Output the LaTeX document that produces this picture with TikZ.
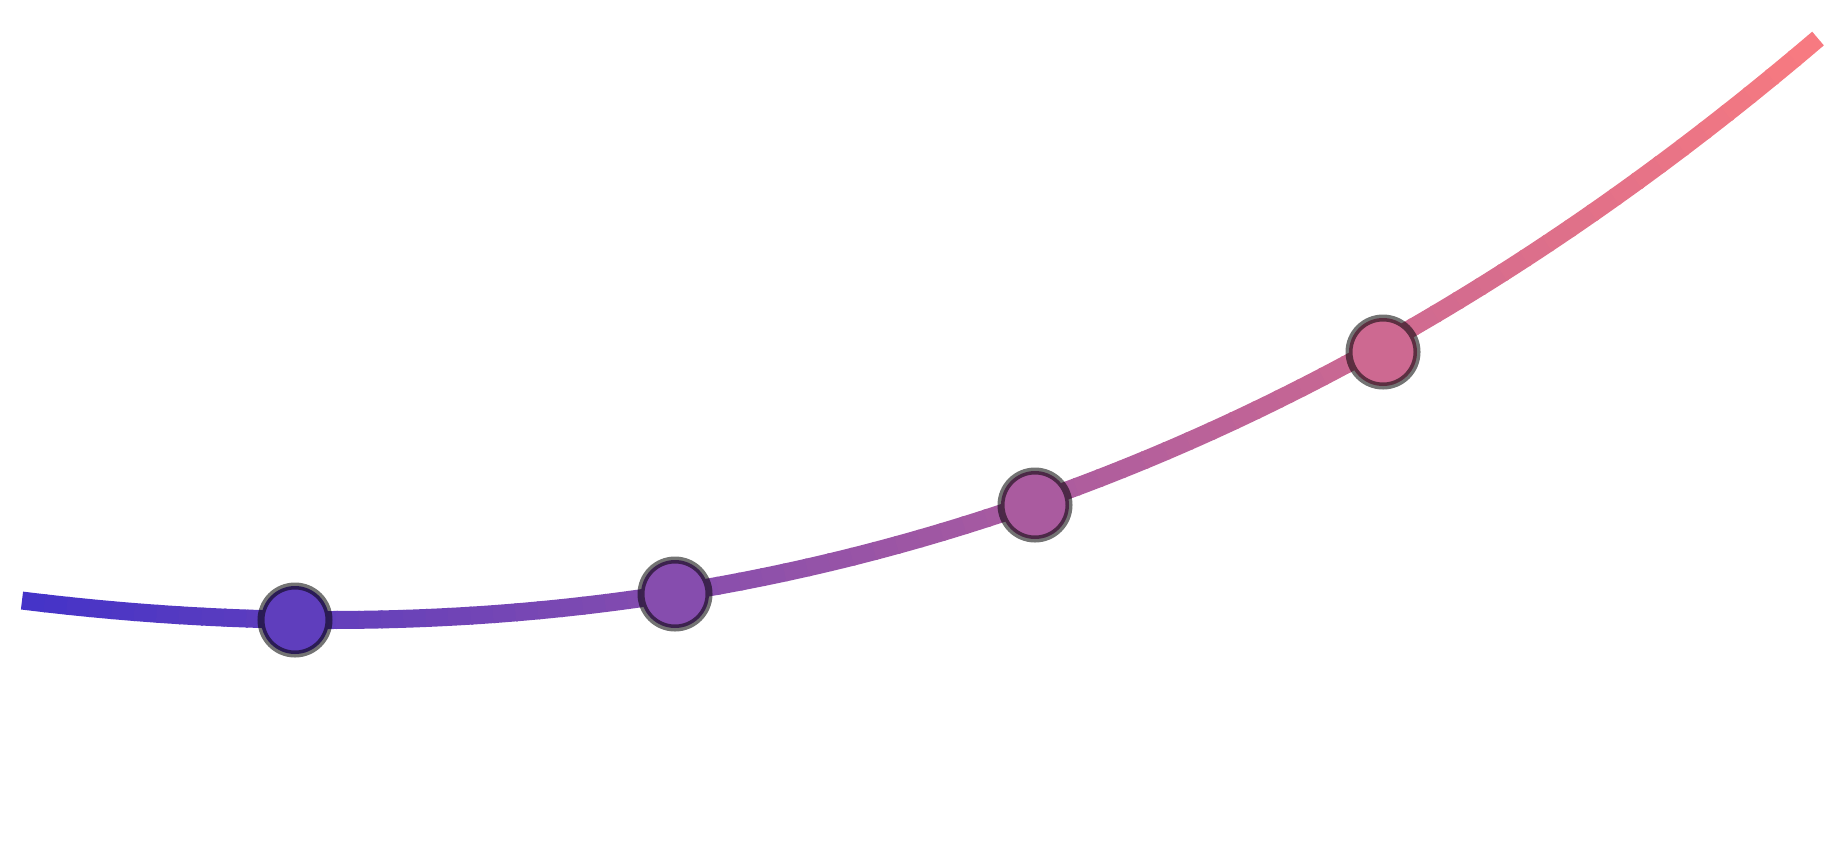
\documentclass[tikz,border=0pt]{standalone}
\definecolor{cA}{RGB}{68,51,200}
\definecolor{cB}{RGB}{248,122,128}
\tikzset{
  marker/.style={circle,minimum size=34pt,inner sep=0pt,line width=3.5pt,draw=black,draw opacity=0.55},
}
\newcommand{\curvey}[2]{\pgfmathsetmacro#1{(620-(215+32*(#2-3.3)/10)*((#2-3.3)/10)*((#2-3.3)/10))/100}}
\begin{document}
\begin{tikzpicture}[x=50pt,y=-50pt]
\useasboundingbox (0,0) rectangle (18.35,8.52);
\foreach \i in {0,...,79}{
  \pgfmathsetmacro\xa{0.22+\i*17.94/80}
  \pgfmathsetmacro\xm{0.22+(\i+0.5)*17.94/80}
  \pgfmathsetmacro\xb{0.22+(\i+1)*17.94/80+0.02}
  \curvey{\ya}{\xa}\curvey{\ym}{\xm}\curvey{\yb}{\xb}
  \pgfmathsetmacro\p{100*(\i+0.5)/80}
  \colorlet{segc}{cB!\p!cA}
  \draw[segc,line width=9pt,line cap=butt,line join=round] (\xa,\ya) -- (\xm,\ym) -- (\xb,\yb);
}
\foreach \n/\mx/\my in {m1/2.95/6.20,m2/6.75/5.94,m3/10.35/5.05,m4/13.83/3.52}{
  \pgfmathsetmacro\p{100*(\mx-0.22)/17.94}
  \colorlet{mc}{cB!\p!cA}
  \node[marker,fill=mc] (\n) at (\mx,\my) {};
}
\end{tikzpicture}
\end{document}
